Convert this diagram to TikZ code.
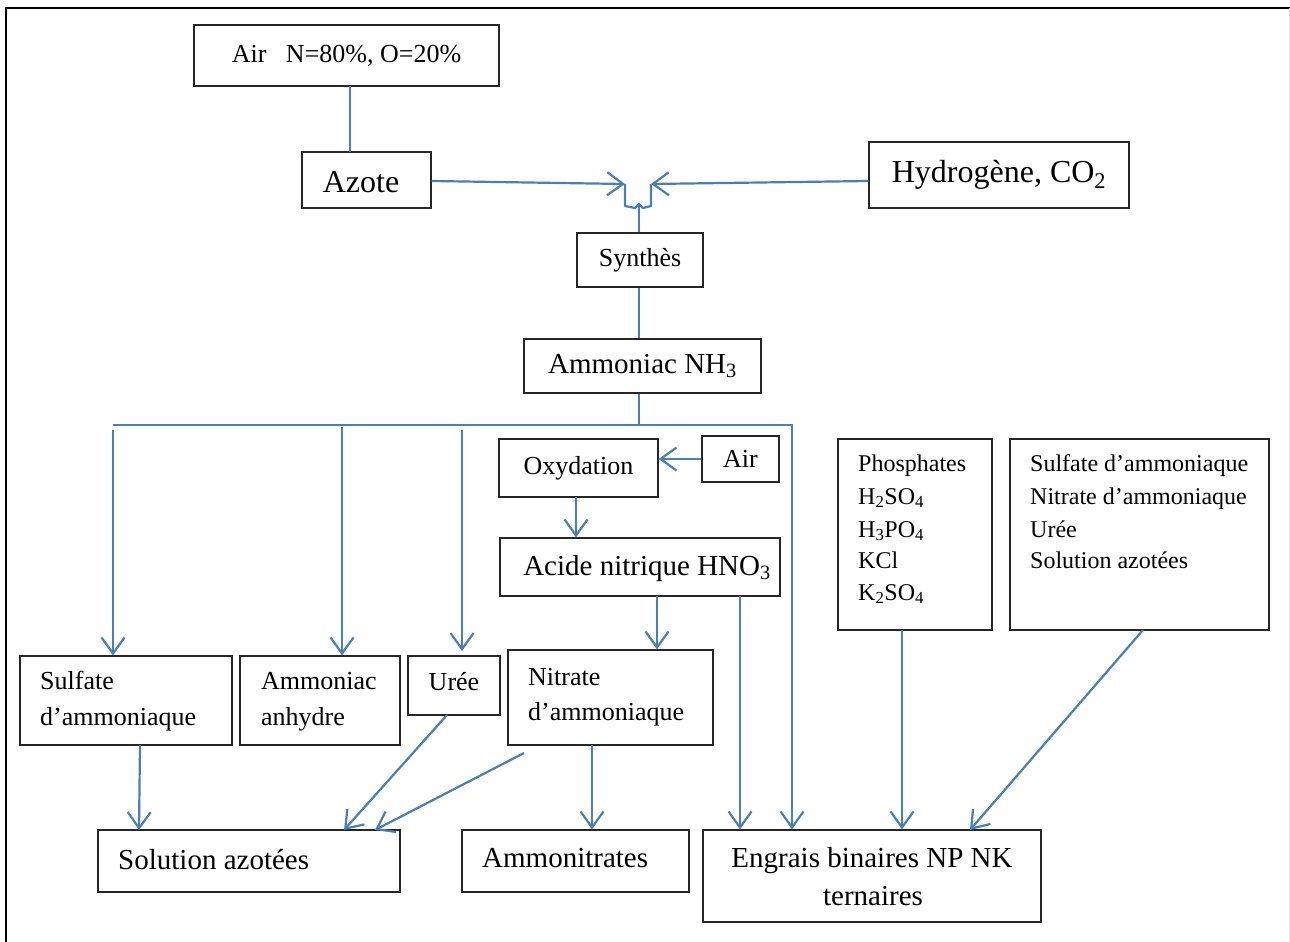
\documentclass[tikz,border=0pt]{standalone}
\usepackage{fontspec}
\setmainfont{Liberation Serif}
\usetikzlibrary{arrows.meta}
\definecolor{lblue}{HTML}{4A7EBB}
\begin{document}
\begin{tikzpicture}[x=1pt,y=-1pt,
  box/.style={draw=black!85, line width=1.3pt, inner sep=0pt, rectangle},
  huge/.style={font=\fontsize{32}{37}\selectfont},
  big/.style={font=\fontsize{29}{34}\selectfont},
  med/.style={font=\fontsize{26}{31}\selectfont},
  lst/.style={font=\fontsize{24}{29}\selectfont},
  txt/.style={inner sep=0pt, anchor=base west},
  ln/.style={draw=lblue, line width=2.2pt},
  ar/.style={draw=lblue, line width=2.2pt, -{Straight Barb[length=16pt,width=23pt]}}]
\useasboundingbox (0,0) rectangle (1290,942);
% outer frame
\draw[line width=2pt] (6,942) -- (6,8) -- (1290,8);
\draw[black!12, line width=1pt] (1289,8) -- (1289,942);

% boxes
\node[box, med, minimum width=305pt, minimum height=61pt] (air) at (346.5,55.5) {Air\ \ \ N=80\%, O=20\%};
\node[box, minimum width=129pt, minimum height=56pt] (azote) at (366.5,180) {};
\node[box, huge, minimum width=260pt, minimum height=66pt] (hyd) at (999,175) {Hydrogène, CO\textsubscript{2}};
\node[box, med, minimum width=126pt, minimum height=54pt] (synth) at (640,260) {Synthès};
\node[box, big, minimum width=237pt, minimum height=54pt] (ammo) at (642.5,366) {Ammoniac NH\textsubscript{3}};
\node[box, med, minimum width=159pt, minimum height=58pt] (oxyd) at (578.5,468) {Oxydation};
\node[box, med, minimum width=77pt, minimum height=46pt] (airb) at (740.5,459) {Air};
\node[box, minimum width=280pt, minimum height=58pt] (acide) at (640,567) {};
\node[box, minimum width=154pt, minimum height=191pt] (phos) at (915,534.5) {};
\node[box, minimum width=259pt, minimum height=191pt] (slist) at (1139.5,534.5) {};
\node[box, minimum width=212pt, minimum height=89pt] (sulf) at (126,700.5) {};
\node[box, minimum width=160pt, minimum height=89pt] (anh) at (320,700.5) {};
\node[box, minimum width=92pt, minimum height=59pt] (uree) at (454,685.5) {};
\node[box, minimum width=205pt, minimum height=95pt] (nitr) at (610.5,697.5) {};
\node[box, minimum width=302pt, minimum height=62pt] (sol) at (249,861) {};
\node[box, minimum width=227pt, minimum height=62pt] (amtr) at (575.5,861) {};
\node[box, minimum width=338pt, minimum height=92pt] (engr) at (872,876) {};

% texts in boxes
\node[inner sep=0pt, huge] (azt) at (361,182) {Azote};
\node[inner sep=0pt, anchor=base, big] (act) at (647,575) {Acide nitrique HNO\textsubscript{3}};
\node[inner sep=0pt, anchor=base, med] (urt) at (454,690) {Urée};
\node[txt, lst] (p1) at (858,471) {Phosphates};
\node[txt, lst] (p2) at (858,504) {H\textsubscript{2}SO\textsubscript{4}};
\node[txt, lst] (p3) at (858,537) {H\textsubscript{3}PO\textsubscript{4}};
\node[txt, lst] (p4) at (858,568) {KCl};
\node[txt, lst] (p5) at (858,600) {K\textsubscript{2}SO\textsubscript{4}};
\node[txt, lst] (s1) at (1030,471) {Sulfate d’ammoniaque};
\node[txt, lst] (s2) at (1030,504) {Nitrate d’ammoniaque};
\node[txt, lst] (s3) at (1030,537) {Urée};
\node[txt, lst] (s4) at (1030,568) {Solution azotées};
\node[txt, med] (sa1) at (40,689) {Sulfate};
\node[txt, med] (sa2) at (40,725) {d’ammoniaque};
\node[txt, med] (an1) at (261,689) {Ammoniac};
\node[txt, med] (an2) at (261,725) {anhydre};
\node[txt, med] (ni1) at (528,685) {Nitrate};
\node[txt, med] (ni2) at (528,720) {d’ammoniaque};
\node[txt, big] (solt) at (118,869) {Solution azotées};
\node[txt, big] (amtrt) at (482,867) {Ammonitrates};
\node[inner sep=0pt, anchor=base, big] (en1) at (872,867) {Engrais binaires NP NK};
\node[inner sep=0pt, anchor=base, big] (en2) at (873,905) {ternaires};

% coordinates
\coordinate (jl) at (625,184);
\coordinate (jr) at (651,184);
\coordinate (jc) at (639,204);
\coordinate (bus) at (639,425);
\coordinate (busL) at (113,425);
\coordinate (busR) at (792,425);
\coordinate (b1) at (113,430);
\coordinate (b2) at (342,427);
\coordinate (b3) at (462,430);
\coordinate (b3e) at (462,651);
\coordinate (a1) at (657,596);
\coordinate (a2) at (740,596);
\coordinate (ph) at (902,630);
\coordinate (sl) at (1143,630);
\coordinate (slE) at (970,830);
\coordinate (su) at (140,745);
\coordinate (suE) at (139,830);
\coordinate (ur) at (447,715);
\coordinate (urE) at (344,830);
\coordinate (nt) at (524,753);
\coordinate (ntE) at (375,830);
\coordinate (nb) at (592,745);
\coordinate (ax) at (350,86);
\coordinate (axE) at (350,152);
\coordinate (ox) at (576,497);

% connectors
\draw[ln] (ax) -- (axE);
\draw[ar] ([yshift=-1pt]azote.east) -- (jl);
\draw[ar] ([yshift=-6pt]hyd.west) -- (jr);
\draw[ln, line join=round] (jl) -- (625,206) -- (635,208) -- (jc) -- (643,208) -- (651,206) -- (jr);
\draw[ln] (jc) -- (jc |- synth.north);
\draw[ln] (jc |- synth.south) -- (jc |- ammo.north);
\draw[ln] (bus |- ammo.south) -- (bus);
\draw[ar] (busL) -- (busR) -- (busR |- engr.north);
\draw[ar] (b1) -- (b1 |- sulf.north);
\draw[ar] (b2) -- (b2 |- anh.north);
\draw[ar] (b3) -- (b3e);
\draw[ar] (airb.west) -- (airb.west -| oxyd.east);
\draw[ar] (ox) -- (ox |- acide.north);
\draw[ar] (a1) -- (a1 |- nitr.north);
\draw[ar] (a2) -- (a2 |- engr.north);
\draw[ar] (ph) -- (ph |- engr.north);
\draw[ar] (sl) -- (slE);
\draw[ar] (su) -- (suE);
\draw[ar] (ur) -- (urE);
\draw[ar] (nt) -- (ntE);
\draw[ar] (nb) -- (nb |- amtr.north);
\end{tikzpicture}
\end{document}
